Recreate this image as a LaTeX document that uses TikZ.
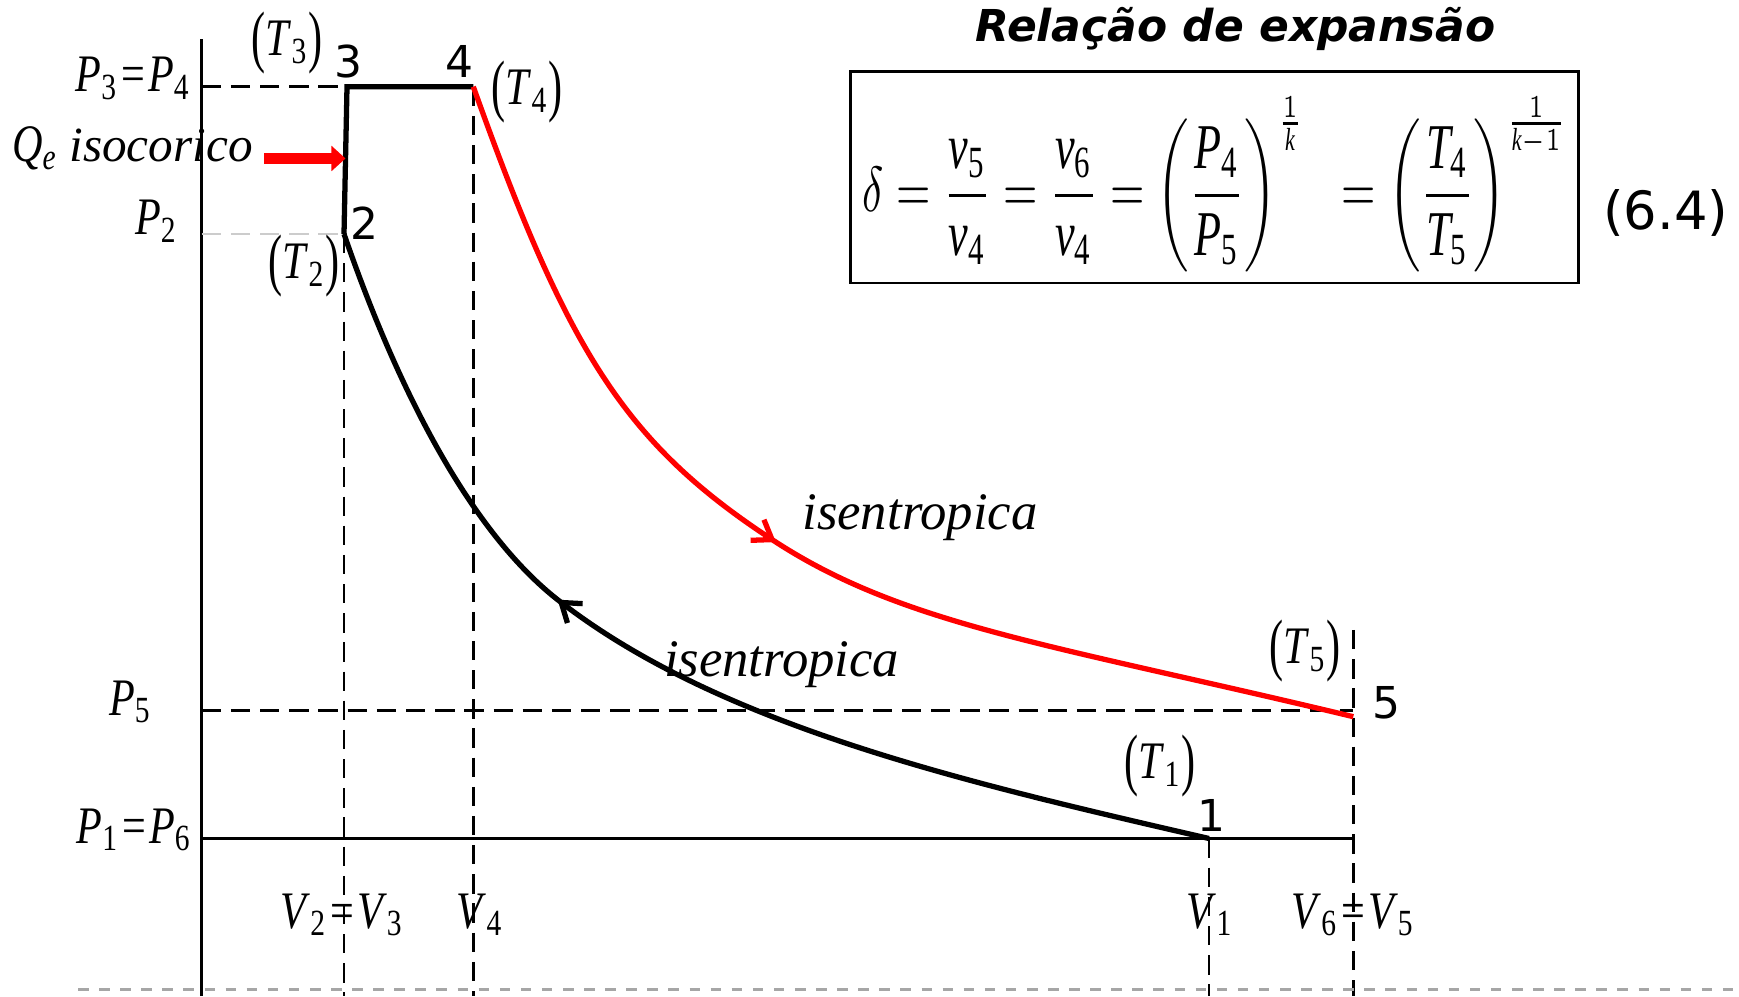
\documentclass[tikz,border=0pt]{standalone}
\usepackage{amsmath}
\usepackage{fontspec}
\setmainfont{Liberation Serif}
\newfontfamily\cond{Liberation Serif}[FakeStretch=0.8]
\newfontfamily\numfont{DejaVu Sans}
\usetikzlibrary{arrows.meta,decorations.markings}

% italic symbol with an upright index (text mode, and math mode)
\newcommand\qv[2]{\textit{#1}\textsubscript{#2}}
\newcommand\mv[2]{\textit{#1}_{\textrm{#2}}}
\newcommand\qeq{\kern0.06em=\kern0.06em}
% tall parentheses round a temperature
\newcommand\tpar[1]{\raisebox{-0.07em}{\scalebox{1}[1.3]{(}}\qv{T}{#1}\raisebox{-0.07em}{\scalebox{1}[1.3]{)}}}

\begin{document}
\begin{tikzpicture}[
    cyc/.style={line width=1.5pt, black},
    expan/.style={red, line width=1.5pt, postaction={decorate},
      decoration={markings, mark=at position 0.48 with {\arrow{Straight Barb[length=5pt,width=7pt]}}}},
    compr/.style={black, line width=1.5pt, postaction={decorate},
      decoration={markings, mark=at position 0.62 with {\arrow{Straight Barb[length=5pt,width=7pt]}}}},
    guide/.style={dash pattern=on 5.5pt off 2.8pt, line width=0.8pt},
    axisline/.style={line width=0.9pt},
    heat/.style={red, line width=3pt, -{Triangle[length=4pt,width=7pt]}},
    lab/.style={inner sep=0pt, font=\cond\fontsize{15}{18}\selectfont},
    isen/.style={inner sep=0pt, font=\itshape\fontsize{15}{18}\selectfont},
    num/.style={inner sep=0pt, font=\numfont\fontsize{12.5}{14}\selectfont},
    ttl/.style={inner sep=0pt, font=\numfont\bfseries\itshape\fontsize{12.5}{14}\selectfont},
    eqbox/.style={draw, line width=0.7pt, inner sep=0pt, minimum width=7.278cm, minimum height=2.113cm}
]
\useasboundingbox (0,0) rectangle (17.39,9.96);

% State points
\coordinate (p1) at (12.09,1.575);
\coordinate (p2) at (3.44,7.62);
\coordinate (p3) at (3.47,9.093);
\coordinate (p4) at (4.733,9.093);
\coordinate (p5) at (13.533,2.793);
\coordinate (m45) at (7.75,4.545);
\coordinate (m12) at (5.58,3.96);
\coordinate (ax0) at (2.018,0);
\coordinate (ax1) at (2.018,9.567);
\coordinate (e5) at (13.533,2.855);
\coordinate (t5) at (13.533,3.66);

% Axis and guide lines
\draw[axisline] (ax0) -- (ax1);
\draw[guide] (ax0 |- p3) -- (p3);
\draw[guide, black!20] (ax0 |- p2) -- (p2);
\draw[guide] (ax0 |- e5) -- (e5);
\draw[line width=0.8pt] (ax0 |- p1) -- (p5 |- p1);
\draw[guide] (p2) -- (p2 |- ax0);
\draw[guide] (p4) -- (p4 |- ax0);
\draw[guide] (p1) -- (p1 |- ax0);
\draw[guide] (t5) -- (p5 |- ax0);
\coordinate (gl) at (0.78,0.065);
\coordinate (gr) at (17.39,0.065);
\draw[black!35, line width=0.6pt, dash pattern=on 3pt off 3pt] (gl) -- (gr);

% Cycle
\draw[cyc] (p2) -- (p3) -- (p4);
\draw[expan] (p4) .. controls (5.683,6.433) and (6.25,5.52) .. (m45)
  .. controls (9.05,3.70) and (10.533,3.513) .. (p5);
\draw[compr] (p1) .. controls (9.59,2.15) and (7.18,2.712) .. (m12)
  .. controls (4.78,4.584) and (4.04,5.88) .. (p2);

% Heat input
\coordinate (qa) at (2.64,8.375);
\coordinate (qb) at (3.455,8.375);
\draw[heat] (qa) -- (qb);
\node[lab, anchor=base west] (lqe) at (0.115,8.343)
  {\qv{Q}{\textit{e}}\hspace{0.12cm}{\normalfont\fontsize{14}{16}\selectfont\itshape isocorico}};

% Pressure and volume labels
\node[lab, anchor=base east] (lp34) at (1.91,9.04) {\qv{P}{3}\qeq\qv{P}{4}};
\node[lab, anchor=base east] (lp2) at (1.78,7.61) {\qv{P}{2}};
\node[lab, anchor=base east] (lp5) at (1.52,2.81) {\qv{P}{5}};
\node[lab, anchor=base east] (lp16) at (1.92,1.53) {\qv{P}{1}\qeq\qv{P}{6}};
\node[lab, anchor=base] (lv23) at (3.42,0.68) {\qv{V}{2}\qeq\qv{V}{3}};
\node[lab, anchor=base] (lv4) at (4.80,0.68) {\qv{V}{4}};
\node[lab, anchor=base] (lv1) at (12.10,0.68) {\qv{V}{1}};
\node[lab, anchor=base] (lv65) at (13.53,0.68) {\qv{V}{6}\qeq\qv{V}{5}};

% Point numbers and temperatures
\node[num] (n1) at (12.117,1.81) {1};
\node[num] (n2) at (3.64,7.725) {2};
\node[num] (n3) at (3.48,9.343) {3};
\node[num] (n4) at (4.595,9.343) {4};
\node[num] (n5) at (13.867,2.93) {5};
\node[lab] (lt1) at (11.60,2.30) {\tpar{1}};
\node[lab] (lt2) at (3.04,7.30) {\tpar{2}};
\node[lab] (lt3) at (2.87,9.53) {\tpar{3}};
\node[lab] (lt4) at (5.27,9.043) {\tpar{4}};
\node[lab] (lt5) at (13.05,3.45) {\tpar{5}};
\node[isen, anchor=base west] (iso45) at (8.017,4.66) {isentropica};
\node[isen, anchor=base west] (iso12) at (6.633,3.193) {isentropica};

% Expansion ratio
\node[ttl, anchor=base] (title) at (12.356,9.543) {Relação de expansão};
\node[eqbox] (eqframe) at (12.146,8.187) {};
\node[inner sep=0pt] (eq) at (12.155,8.115) {\resizebox*{7.05cm}{1.75cm}{$\displaystyle
  \delta=\frac{\mv{v}{5}}{\mv{v}{4}}=\frac{\mv{v}{6}}{\mv{v}{4}}
  =\left(\frac{\mv{P}{4}}{\mv{P}{5}}\right)^{\frac{1}{\textit{k}}}\;\;
  =\left(\frac{\mv{T}{4}}{\mv{T}{5}}\right)^{\frac{1}{\textit{k}-1}}$}};
\node[num, font=\numfont\fontsize{15}{17}\selectfont] (eqn) at (16.657,7.83) {(6.4)};

\end{tikzpicture}
\end{document}
